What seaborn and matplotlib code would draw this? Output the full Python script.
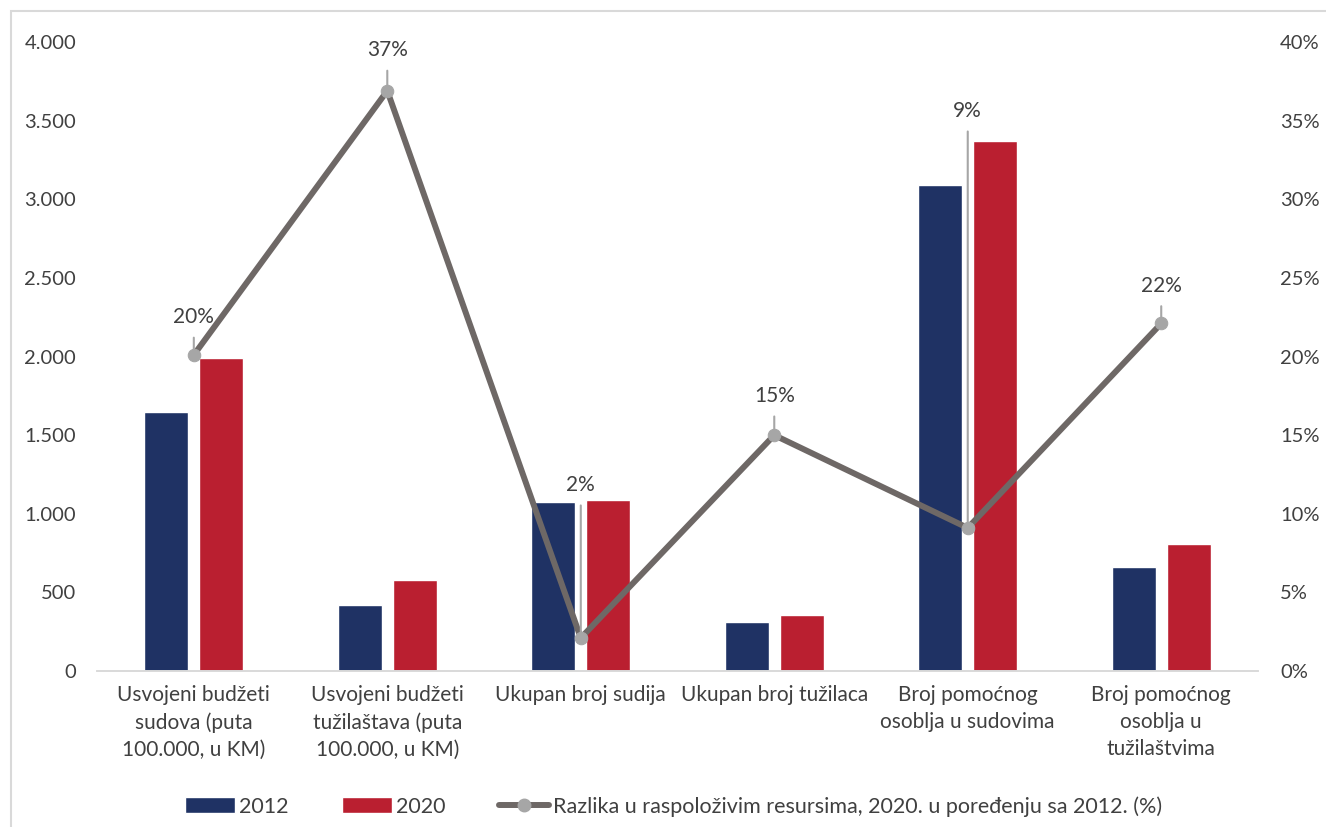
import pandas as pd
import numpy as np
import seaborn as sns
import matplotlib.pyplot as plt
from matplotlib.lines import Line2D
from matplotlib.patches import Patch, Rectangle

# categories and values
categories = ['Usvojeni budžeti\nsudova (puta\n100.000, u KM)',
              'Usvojeni budžeti\ntužilaštava (puta\n100.000, u KM)',
              'Ukupan broj sudija',
              'Ukupan broj tužilaca',
              'Broj pomoćnog\nosoblja u sudovima',
              'Broj pomoćnog\nosoblja u\ntužilaštvima']
vals_2012 = [1647, 420, 1075, 312, 3091, 661]
vals_2020 = [1990, 579, 1087, 356, 3370, 808]
diff_pct = [20.1, 36.9, 2.1, 15.0, 9.1, 22.1]
diff_labels = ['20%', '37%', '2%', '15%', '9%', '22%']
label_offset = [27, 29, 110, 28, 300, 27]   # points above marker

line_name = 'Razlika u raspoloživim resursima, 2020. u poređenju sa 2012. (%)'

sns.set_style('white')
plt.rcParams['font.family'] = ['Lato', 'DejaVu Sans']
text_col = '#404040'

df = pd.DataFrame({
    'kategorija': categories * 2,
    'godina': ['2012'] * 6 + ['2020'] * 6,
    'vrijednost': vals_2012 + vals_2020,
})

fig = plt.figure(figsize=(13.26, 8.27), dpi=100)
ax = fig.add_axes([0.0732, 0.1886, 0.8755, 0.7606])

sns.barplot(data=df, x='kategorija', y='vrijednost', hue='godina',
            palette={'2012': '#1F3264', '2020': '#BA1F30'}, saturation=1,
            width=0.567, gap=0.2, ax=ax, legend=False)

ax2 = ax.twinx()
sns.lineplot(x=np.arange(len(categories)), y=diff_pct, ax=ax2,
             color='#6E6866', linewidth=4.3, marker='o', markersize=9,
             markerfacecolor='#A6A6A6', markeredgecolor='#A6A6A6')

for i, (v, lab, off) in enumerate(zip(diff_pct, diff_labels, label_offset)):
    ax2.annotate(lab, xy=(i, v), xytext=(0, off), textcoords='offset points',
                 ha='center', va='center', fontsize=15, color=text_col,
                 arrowprops=dict(arrowstyle='-', color='#A6A6A6', lw=1.5,
                                 shrinkA=5, shrinkB=3))

ax.set_ylim(0, 4000)
ax2.set_ylim(0, 40)
ax.set_xlim(-0.5, len(categories) - 0.5)
ax.set_yticks(np.arange(0, 4001, 500))
ax.set_yticklabels([f'{t:,}'.replace(',', '.') for t in range(0, 4001, 500)])
ax2.set_yticks(np.arange(0, 41, 5))
ax2.set_yticklabels([f'{t}%' for t in range(0, 41, 5)])
ax.set_xlabel('')
ax.set_ylabel('')
ax2.set_ylabel('')

ax.tick_params(axis='y', length=0, pad=15, labelsize=14.5, labelcolor=text_col)
ax2.tick_params(axis='y', length=0, pad=16, labelsize=14.5, labelcolor=text_col)
ax.tick_params(axis='x', length=0, pad=10, labelsize=15, labelcolor=text_col)
for t in ax.get_xticklabels():
    t.set_linespacing(1.45)

for a in (ax, ax2):
    for s in ['top', 'left', 'right']:
        a.spines[s].set_visible(False)
    a.spines['bottom'].set_color('#D9D9D9')
    a.spines['bottom'].set_linewidth(1.2)

handles = [Patch(facecolor='#1F3264', label='2012'),
           Patch(facecolor='#BA1F30', label='2020'),
           Line2D([], [], color='#6E6866', lw=4.3, marker='o', markersize=9,
                  markerfacecolor='#A6A6A6', markeredgecolor='#A6A6A6',
                  label=line_name)]
leg = fig.legend(handles=handles, loc='center', bbox_to_anchor=(0.508, 0.025),
                 ncol=3, frameon=False, fontsize=15.5, handlelength=2.3,
                 handleheight=0.8, columnspacing=2.5, handletextpad=0.2)
for t in leg.get_texts():
    t.set_color(text_col)

# thin frame around the chart area
fig.patches.append(Rectangle((11 / 1326, -0.1), 1.2, 1 - 11 / 827 + 0.1,
                             transform=fig.transFigure, fill=False,
                             edgecolor='#D9D9D9', linewidth=1.5))

fig.savefig('out.png', dpi=100)
